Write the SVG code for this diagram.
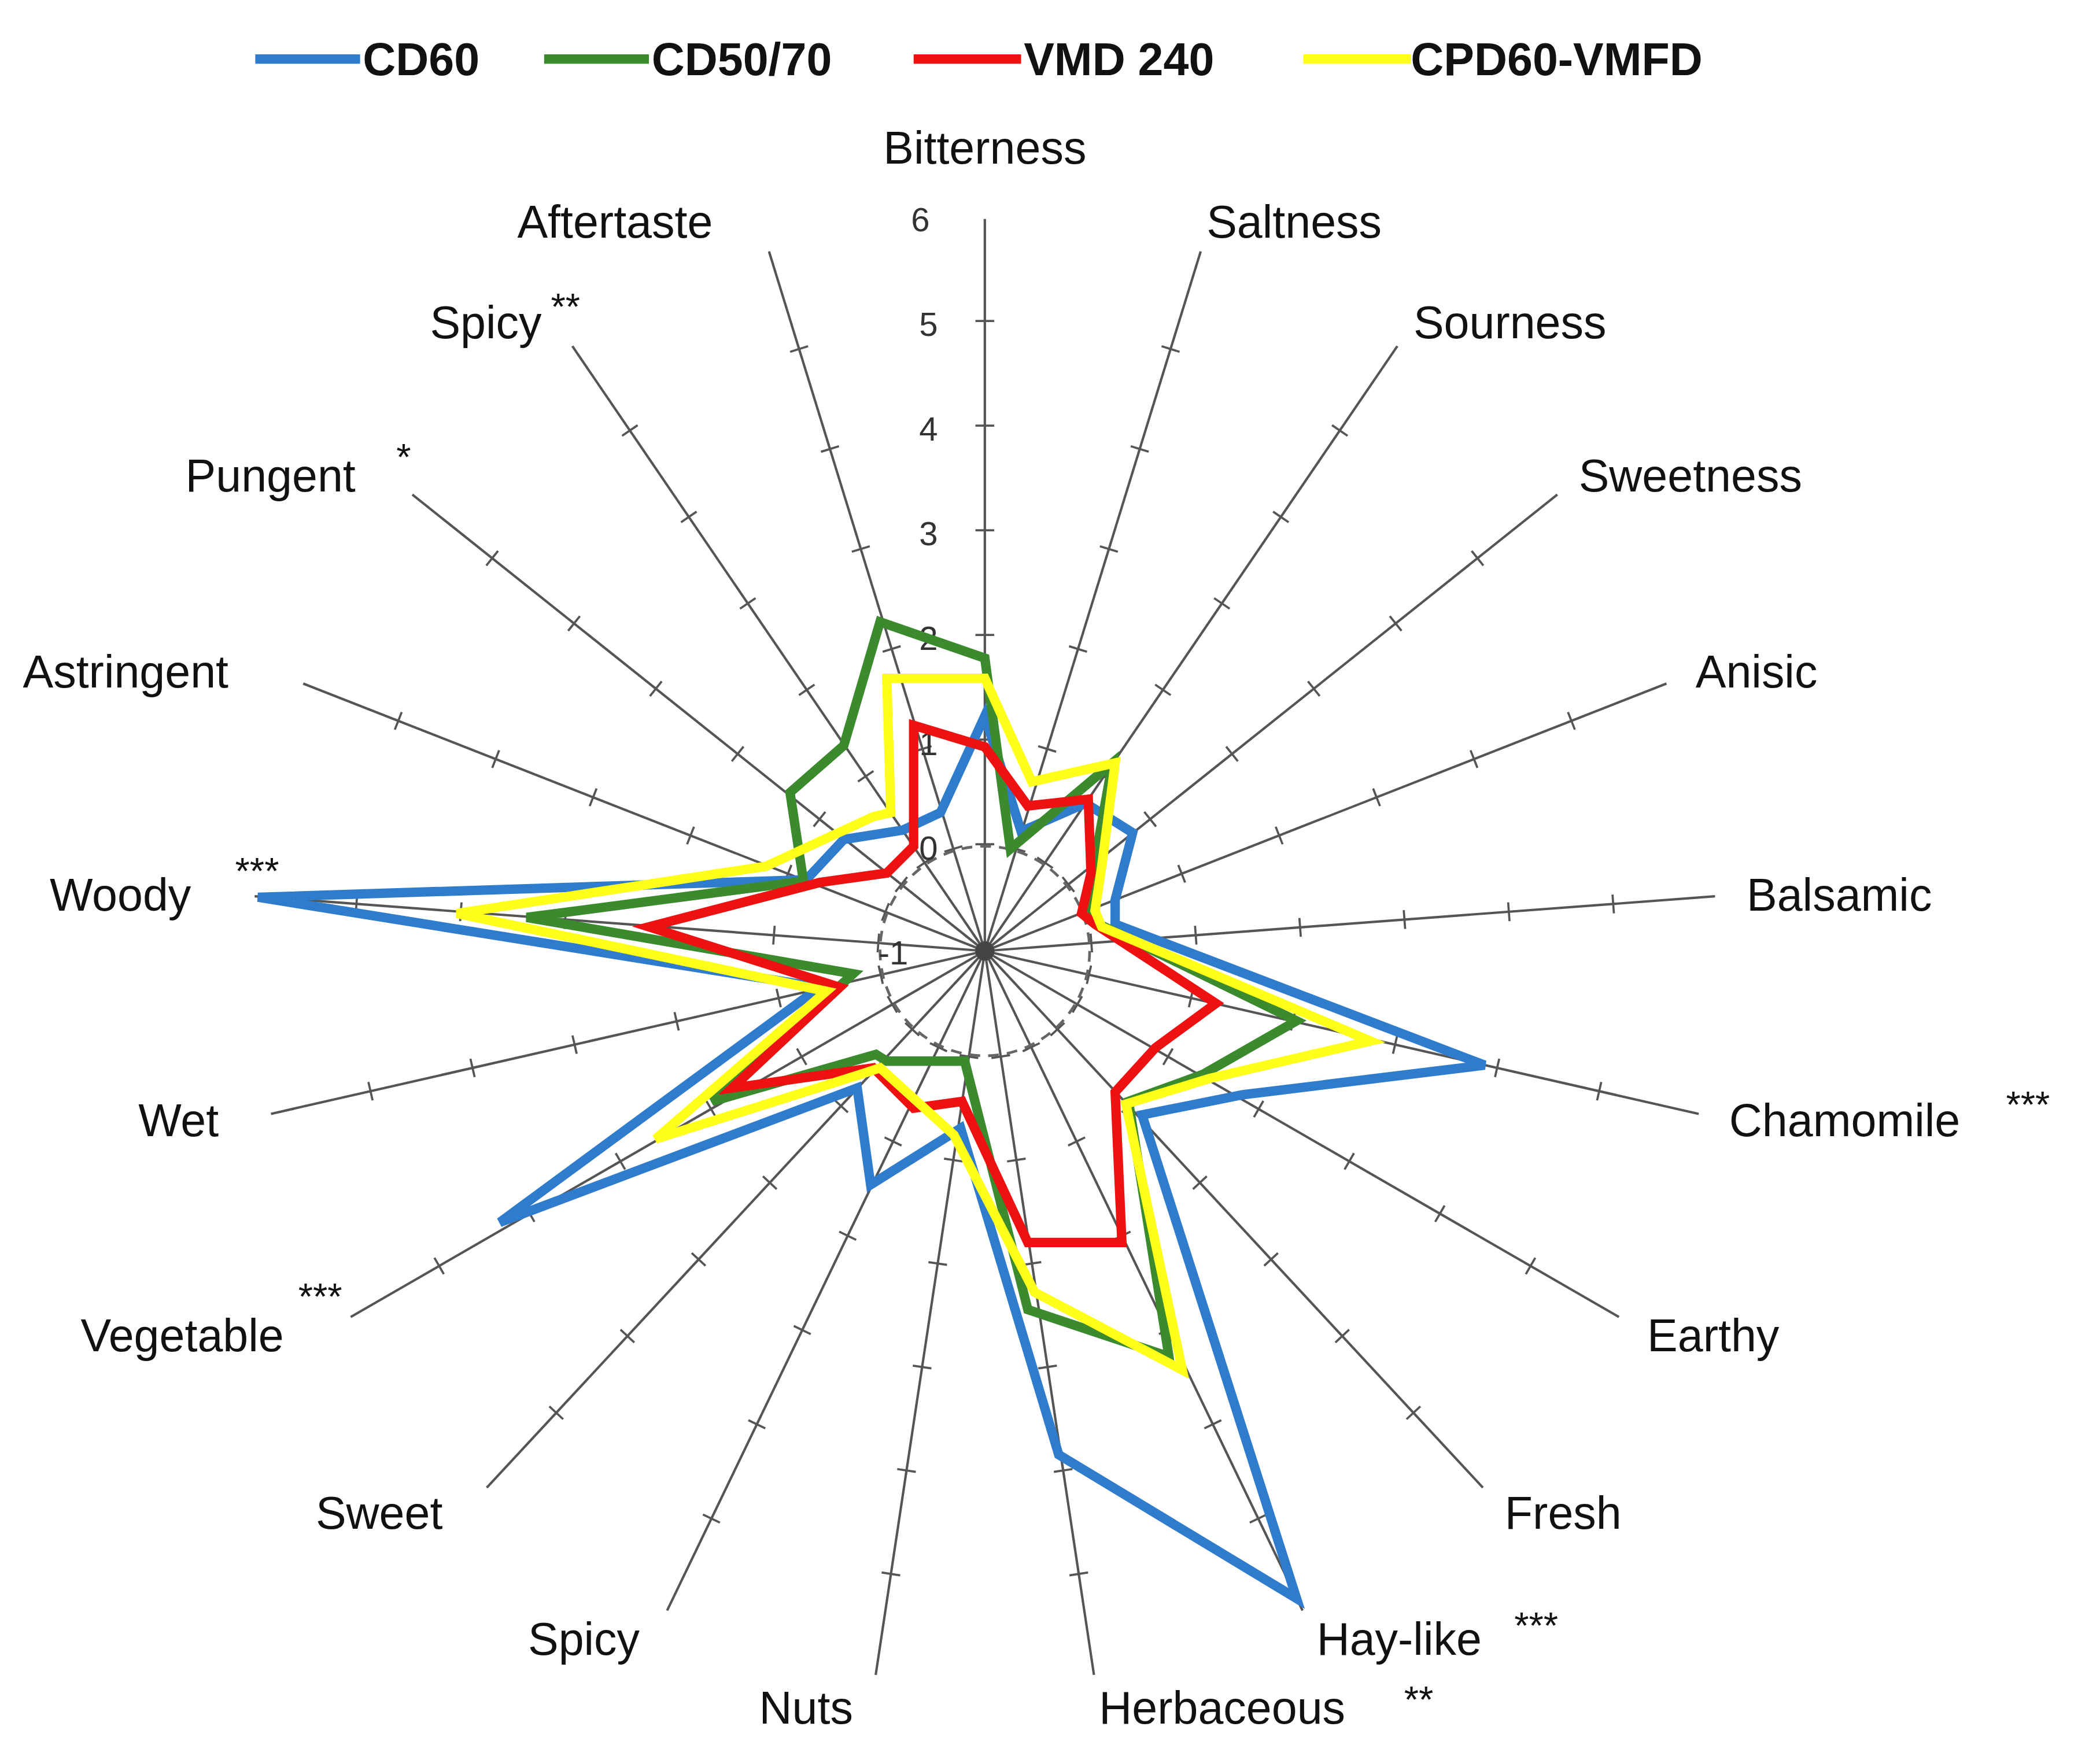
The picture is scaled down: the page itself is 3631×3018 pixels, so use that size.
<svg xmlns="http://www.w3.org/2000/svg" xmlns:xlink="http://www.w3.org/1999/xlink" width="3631" height="3018" viewBox="0 0 3631 3018">
<style>
.lbl{font-family:"Liberation Sans",Arial,sans-serif;font-size:34px;fill:#111}
.num{font-family:"Liberation Sans",Arial,sans-serif;font-size:25px;fill:#333}
.leg{font-family:"Liberation Sans",Arial,sans-serif;font-size:34px;font-weight:bold;fill:#111}
.star{font-family:"Liberation Sans",Arial,sans-serif;font-size:28px;fill:#111}
.ser{fill:none;stroke-width:7;stroke-linejoin:miter}
</style>
<defs>
<g id="axis">
<line x1="733" y1="708" x2="733" y2="163" stroke="#555" stroke-width="1.8"/>
<line x1="733" y1="707.2" x2="733" y2="162" stroke="#555" stroke-width="14" stroke-dasharray="1.6 76.3"/>
</g>
</defs>
<rect width="3631" height="3018" fill="#fff"/>
<g transform="scale(2.3231)">
<g id="axes">
<use xlink:href="#axis"/>
<use xlink:href="#axis" transform="rotate(17.1429 733 708)"/>
<use xlink:href="#axis" transform="rotate(34.2857 733 708)"/>
<use xlink:href="#axis" transform="rotate(51.4286 733 708)"/>
<use xlink:href="#axis" transform="rotate(68.5714 733 708)"/>
<use xlink:href="#axis" transform="rotate(85.7143 733 708)"/>
<use xlink:href="#axis" transform="rotate(102.857 733 708)"/>
<use xlink:href="#axis" transform="rotate(120 733 708)"/>
<use xlink:href="#axis" transform="rotate(137.143 733 708)"/>
<use xlink:href="#axis" transform="rotate(154.286 733 708)"/>
<use xlink:href="#axis" transform="rotate(171.429 733 708)"/>
<use xlink:href="#axis" transform="rotate(188.571 733 708)"/>
<use xlink:href="#axis" transform="rotate(205.714 733 708)"/>
<use xlink:href="#axis" transform="rotate(222.857 733 708)"/>
<use xlink:href="#axis" transform="rotate(240 733 708)"/>
<use xlink:href="#axis" transform="rotate(257.143 733 708)"/>
<use xlink:href="#axis" transform="rotate(274.286 733 708)"/>
<use xlink:href="#axis" transform="rotate(291.429 733 708)"/>
<use xlink:href="#axis" transform="rotate(308.571 733 708)"/>
<use xlink:href="#axis" transform="rotate(325.714 733 708)"/>
<use xlink:href="#axis" transform="rotate(342.857 733 708)"/>
<circle cx="733" cy="708" r="78" fill="none" stroke="#666" stroke-width="2" stroke-dasharray="8 6"/>
<circle cx="733" cy="708" r="7" fill="#444"/>
</g>
<g id="scale">
<text class="num" x="692" y="172" text-anchor="end">6</text>
<text class="num" x="698" y="250" text-anchor="end">5</text>
<text class="num" x="698" y="328" text-anchor="end">4</text>
<text class="num" x="698" y="406" text-anchor="end">3</text>
<text class="num" x="698" y="484" text-anchor="end">2</text>
<text class="num" x="698" y="562" text-anchor="end">1</text>
<text class="num" x="698" y="640" text-anchor="end">0</text>
<text class="num" x="676" y="718" text-anchor="end">-1</text>
</g>
<g id="series">
<polygon id="s-cd60" class="ser" stroke="#2f7ccc" points="733,533 760,619 808,598 843,620 830,670 830,688 1105,793 925,815 850,830 965,1190 788,1083 715,840 648,882 638,810 372,910 610,735 192,668 600,655 628,625 672,618 700,605"/>
<polygon id="s-cd5070" class="ser" stroke="#3c8a2e" points="733,490 752,632 828,568 815,640 812,676 818,688 965,760 895,800 840,820 870,1010 765,975 718,790 660,790 652,785 530,820 635,725 392,683 598,656 588,590 628,555 655,463"/>
<polygon id="s-vmd" class="ser" stroke="#ee1111" points="733,556 765,600 810,595 812,650 805,680 815,688 905,747 860,780 830,813 835,925 765,925 716,820 680,825 650,795 545,810 625,735 483,690 610,657 660,650 680,630 680,540"/>
<polygon id="s-cpd" class="ser" stroke="#ffff1a" points="733,505 768,582 830,568 820,645 815,678 820,690 1020,775 900,803 838,822 880,1020 770,962 710,845 655,795 640,800 488,848 615,738 340,680 570,645 650,608 663,605 660,505"/>
</g>
<g id="labels">
<text class="lbl" x="733" y="122" text-anchor="middle">Bitterness</text>
<text class="lbl" x="385" y="177">Aftertaste</text>
<text class="lbl" x="898" y="177">Saltness</text>
<text class="lbl" x="1052" y="252">Sourness</text>
<text class="lbl" x="1175" y="366">Sweetness</text>
<text class="lbl" x="1262" y="512">Anisic</text>
<text class="lbl" x="1300" y="678">Balsamic</text>
<text class="lbl" x="1287" y="846">Chamomile</text><text class="star" x="1493" y="832">***</text>
<text class="lbl" x="1226" y="1006">Earthy</text>
<text class="lbl" x="1120" y="1138">Fresh</text>
<text class="lbl" x="980" y="1232">Hay-like</text><text class="star" x="1127" y="1220">***</text>
<text class="lbl" x="818" y="1283">Herbaceous</text><text class="star" x="1045" y="1275">**</text>
<text class="lbl" x="565" y="1283">Nuts</text>
<text class="lbl" x="393" y="1232">Spicy</text>
<text class="lbl" x="235" y="1138">Sweet</text>
<text class="lbl" x="60" y="1006">Vegetable</text><text class="star" x="222" y="975">***</text>
<text class="lbl" x="103" y="846">Wet</text>
<text class="lbl" x="37" y="678">Woody</text><text class="star" x="175" y="658">***</text>
<text class="lbl" x="17" y="512">Astringent</text>
<text class="lbl" x="138" y="366">Pungent</text><text class="star" x="295" y="350">*</text>
<text class="lbl" x="320" y="252">Spicy</text><text class="star" x="410" y="238">**</text>
</g>
<g id="legend">
<line x1="190" y1="44" x2="268" y2="44" stroke="#2f7ccc" stroke-width="7"/>
<text class="leg" x="270" y="56">CD60</text>
<line x1="405" y1="44" x2="483" y2="44" stroke="#3c8a2e" stroke-width="7"/>
<text class="leg" x="485" y="56">CD50/70</text>
<line x1="680" y1="44" x2="760" y2="44" stroke="#ee1111" stroke-width="7"/>
<text class="leg" x="762" y="56">VMD 240</text>
<line x1="970" y1="44" x2="1050" y2="44" stroke="#ffff1a" stroke-width="7"/>
<text class="leg" x="1050" y="56">CPD60-VMFD</text>
</g>
</g>
</svg>
